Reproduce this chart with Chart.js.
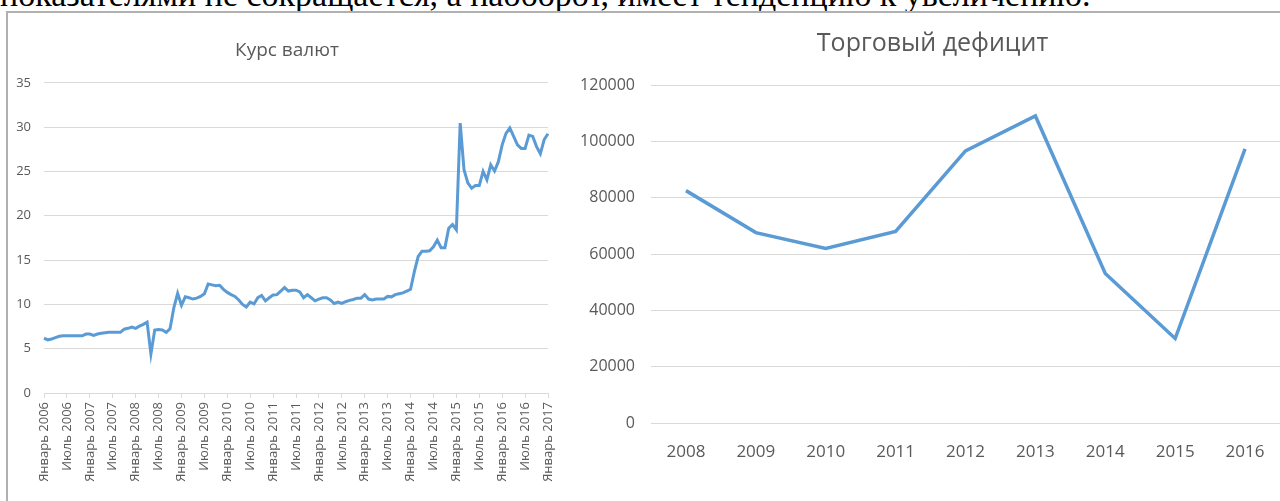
<!DOCTYPE html>
<html lang="ru">
<head>
<meta charset="utf-8">
<script src="https://cdn.jsdelivr.net/npm/chart.js@4.4.0/dist/chart.umd.min.js"></script>
<style>
  html, body { margin: 0; padding: 0; background: #fff; width: 1280px; height: 501px; overflow: hidden; }
  #text { position: absolute; left: 0; top: -22px; font-family: "Liberation Serif", serif; font-size: 34px; line-height: 34px; white-space: nowrap; color: #000; }
  #frame { position: absolute; left: 6px; top: 11px; width: 1290px; height: 500px; border-left: 2px solid #b0b0b0; border-top: 2px solid #b0b0b0; }
  #box1 { position: absolute; left: 9px; top: 13px; width: 556px; height: 488px; }
  #box2 { position: absolute; left: 565px; top: 13px; width: 735px; height: 488px; }
</style>
</head>
<body>
<div id="text">показателями не сокращается, а наоборот, имеет тенденцию к увеличению.</div>
<div id="frame"></div>
<div id="box1"><canvas id="myChart1"></canvas></div>
<div id="box2"><canvas id="myChart2"></canvas></div>
<script>
// Курс валют, помесячно с января 2006 по январь 2017
var monthNames = ['Январь', 'Февраль', 'Март', 'Апрель', 'Май', 'Июнь',
                  'Июль', 'Август', 'Сентябрь', 'Октябрь', 'Ноябрь', 'Декабрь'];
var rateYears = [2006, 2007, 2008, 2009, 2010, 2011, 2012, 2013, 2014, 2015, 2016, 2017];
var rateValues = [
  6.2, 6.0, 6.1, 6.25, 6.4, 6.45, 6.45, 6.45, 6.45, 6.45, 6.45, 6.65,   // 2006
  6.65, 6.5, 6.65, 6.75, 6.8, 6.85, 6.85, 6.85, 6.85, 7.2, 7.3, 7.45,   // 2007
  7.3, 7.55, 7.75, 8.0, 4.4, 7.1, 7.15, 7.1, 6.85, 7.25, 9.6, 11.25,    // 2008
  9.9, 10.85, 10.75, 10.6, 10.7, 10.9, 11.2, 12.3, 12.2, 12.1, 12.15, 11.7, // 2009
  11.35, 11.1, 10.9, 10.5, 10.0, 9.7, 10.25, 10.05, 10.75, 11.0, 10.4, 10.75, // 2010
  11.05, 11.1, 11.5, 11.9, 11.5, 11.6, 11.6, 11.4, 10.75, 11.1, 10.75, 10.4, // 2011
  10.6, 10.75, 10.75, 10.5, 10.1, 10.25, 10.1, 10.3, 10.45, 10.55, 10.7, 10.7, // 2012
  11.1, 10.6, 10.5, 10.6, 10.6, 10.6, 10.9, 10.85, 11.1, 11.2, 11.3, 11.5, // 2013
  11.7, 13.7, 15.4, 16.0, 16.0, 16.05, 16.5, 17.25, 16.4, 16.4, 18.6, 19.0, // 2014
  18.4, 30.45, 25.2, 23.7, 23.1, 23.4, 23.4, 25.0, 24.05, 25.75, 25.05, 26.1, // 2015
  28.0, 29.3, 29.9, 28.95, 28.0, 27.6, 27.6, 29.1, 28.95, 27.8, 27.0, 28.6, // 2016
  29.25                                                                  // 2017
];

// Торговый дефицит по годам
var deficitYears = ['2008', '2009', '2010', '2011', '2012', '2013', '2014', '2015', '2016'];
var deficitValues = [82500, 67600, 62000, 68000, 96600, 109000, 53100, 30000, 97300];

var monthLabels = [];
rateYears.forEach(function (y) {
    monthNames.forEach(function (m) {
        if (monthLabels.length < rateValues.length) monthLabels.push(m + ' ' + y);
    });
});

var gray = '#595959';
var gridGray = '#d9d9d9';
var lineBlue = '#5b9bd5';

var ctx1 = document.getElementById('myChart1').getContext('2d');
var myChart1 = new Chart(ctx1, {
    type: 'line',
    data: {
        labels: monthLabels,
        datasets: [{
            label: 'Курс валют',
            data: rateValues,
            borderColor: lineBlue,
            borderWidth: 3,
            pointRadius: 0,
            tension: 0,
            fill: false
        }]
    },
    options: {
        responsive: true,
        maintainAspectRatio: false,
        animation: false,
        layout: { padding: 0 },
        plugins: {
            legend: { display: false },
            tooltip: { enabled: false },
            title: {
                display: true,
                text: 'Курс валют',
                color: gray,
                font: { family: 'Open Sans', size: 19, weight: 'normal' },
                padding: { top: 26, bottom: 21 }
            }
        },
        scales: {
            x: {
                // room on the right, but the title stays centred on the whole box
                afterFit: function (scale) { scale.height = 108; scale.paddingRight = 17; },
                border: { display: true, color: gridGray },
                grid: {
                    drawOnChartArea: false,
                    tickLength: 5,
                    color: function (c) { return c.index % 6 === 0 ? gridGray : 'rgba(0,0,0,0)'; }
                },
                ticks: {
                    autoSkip: false,
                    maxRotation: 90,
                    minRotation: 90,
                    padding: 4,
                    color: gray,
                    font: { family: 'Open Sans', size: 13 },
                    callback: function (val, i) { return i % 6 === 0 ? this.getLabelForValue(val) : ''; }
                }
            },
            y: {
                min: 0,
                max: 35,
                afterFit: function (scale) { scale.width = 35; },
                border: { display: false },
                grid: { color: gridGray, drawTicks: false },
                ticks: {
                    stepSize: 5,
                    padding: 13,
                    color: gray,
                    font: { family: 'Open Sans', size: 13 }
                }
            }
        }
    }
});

var ctx2 = document.getElementById('myChart2').getContext('2d');
var myChart2 = new Chart(ctx2, {
    type: 'line',
    data: {
        labels: deficitYears,
        datasets: [{
            label: 'Торговый дефицит',
            data: deficitValues,
            borderColor: lineBlue,
            borderWidth: 3.5,
            pointRadius: 0,
            tension: 0,
            fill: false
        }]
    },
    options: {
        responsive: true,
        maintainAspectRatio: false,
        animation: false,
        layout: { padding: 0 },
        plugins: {
            legend: { display: false },
            tooltip: { enabled: false },
            title: {
                display: true,
                text: 'Торговый дефицит',
                color: gray,
                font: { family: 'Open Sans', size: 25, weight: 'normal' },
                padding: { top: 16, bottom: 26 }
            }
        },
        scales: {
            x: {
                offset: true,
                afterFit: function (scale) { scale.height = 78; scale.paddingRight = 20; },
                border: { display: false },
                grid: { display: false },
                ticks: {
                    padding: 11,
                    color: gray,
                    font: { family: 'Open Sans', size: 17 }
                }
            },
            y: {
                min: 0,
                max: 120000,
                afterFit: function (scale) { scale.width = 86; },
                border: { display: false },
                grid: { color: gridGray, drawTicks: false },
                ticks: {
                    stepSize: 20000,
                    padding: 16,
                    color: gray,
                    font: { family: 'Open Sans', size: 16 },
                    callback: function (v) { return String(v); }
                }
            }
        }
    }
});
</script>
</body>
</html>
